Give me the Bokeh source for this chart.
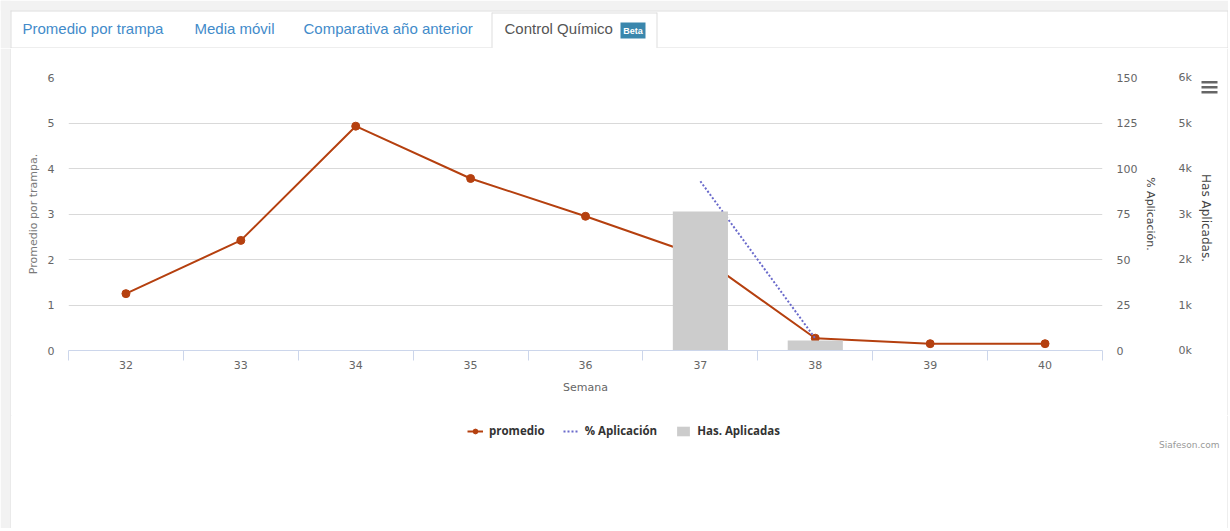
import math
from bokeh.plotting import figure
from bokeh.models import (Range1d, LinearAxis, FixedTicker, Legend, LegendItem)
from bokeh.layouts import column, row
from bokeh.embed import file_html
from bokeh.resources import INLINE
from bokeh.core.properties import value

# ---------------- data ----------------
weeks = [32, 33, 34, 35, 36, 37, 38, 39, 40]
promedio = [1.25, 2.42, 4.93, 3.78, 2.95, 2.07, 0.27, 0.15, 0.15]
aplic_weeks = [37, 38]
pct_aplicacion = [93, 6.6]
has_weeks = [37, 38]
has_aplicadas = [3055, 220]
left_ticks = [0, 1, 2, 3, 4, 5, 6]
pct_ticks = [0, 25, 50, 75, 100, 125, 150]
has_ticks = [0, 1000, 2000, 3000, 4000, 5000, 6000]
has_tick_labels = ["0k", "1k", "2k", "3k", "4k", "5k", "6k"]
tabs = ["Promedio por trampa", "Media móvil", "Comparativa año anterior", "Control Químico"]
series_names = ["promedio", "% Aplicación", "Has. Aplicadas"]

RED = "#b5400f"
PURPLE = "#6a6acb"
GRAYBAR = "#cccccc"
BORDER = "#dddddd"
OUTER = "#f2f2f2"
FONT = "DejaVu Sans"


def pixel_fig(x0, x1, y0, y1):
    """A helper figure whose frame fills its canvas, with page-pixel ranges."""
    f = figure(width=x1 - x0, height=y1 - y0, x_range=Range1d(x0, x1), y_range=Range1d(y1, y0),
               output_backend="svg", toolbar_location=None, min_border=0,
               x_axis_location=None, y_axis_location=None, title=None)
    f.grid.visible = False
    f.outline_line_color = None
    f.background_fill_color = "white"
    f.border_fill_color = "white"
    return f


# ---------------- tab bar ----------------
tf = pixel_fig(0, 1228, 0, 48)
tf.quad(left=[0, 0], right=[1228, 10], top=[0, 0], bottom=[10, 48],
        fill_color=OUTER, line_color=None)
tf.segment(x0=[10, 10.5, 10, 657, 491.5, 491.5, 656.5, 1227.5],
           y0=[10.5, 10, 47.5, 47.5, 12, 12.5, 12, 10],
           x1=[1228, 10.5, 491, 1228, 491.5, 656.5, 656.5, 1227.5],
           y1=[10.5, 48, 47.5, 47.5, 48, 12.5, 48, 48],
           line_color=BORDER, line_width=1)
tf.text(x=[22, 194, 303], y=[28, 28, 28], text=tabs[:3],
        text_font=value("Liberation Sans"), text_font_size="15px",
        text_color="#428bca", text_baseline="middle", text_align="left")
tf.text(x=[504], y=[28], text=tabs[3:],
        text_font=value("Liberation Sans"), text_font_size="15px",
        text_color="#555555", text_baseline="middle", text_align="left")
tf.quad(left=[620], right=[645], top=[22], bottom=[38], fill_color="#3a87ad", line_color=None)
tf.text(x=[632.5], y=[30.5], text=["Beta"], text_font=value("Liberation Sans"),
        text_font_size="9px", text_font_style="bold", text_color="white",
        text_baseline="middle", text_align="center")

# ---------------- left panel border strip ----------------
strip = pixel_fig(0, 11, 48, 528)
strip.quad(left=[0], right=[10], top=[48], bottom=[528], fill_color=OUTER, line_color=None)
strip.segment(x0=[10.5], y0=[48], x1=[10.5], y1=[528], line_color=BORDER, line_width=1)

# ---------------- main chart ----------------
p = figure(width=1187, height=367, x_range=Range1d(31.5, 40.5), y_range=Range1d(0, 6),
           output_backend="svg", toolbar_location=None, title=None,
           min_border_left=57, min_border_right=96, min_border_top=29, min_border_bottom=65)
p.extra_y_ranges = {"pct": Range1d(0, 150), "has": Range1d(0, 6000)}
p.outline_line_color = None
p.background_fill_color = "white"
p.border_fill_color = "white"

r_line = p.line(weeks, promedio, line_color=RED, line_width=2)
r_pts = p.scatter(weeks, promedio, size=8, fill_color=RED, line_color=RED)
r_pct = p.line(aplic_weeks, pct_aplicacion, y_range_name="pct", line_color=PURPLE,
               line_width=2, line_dash="2 2")
r_bar = p.vbar(x=has_weeks, top=has_aplicadas, width=0.48, y_range_name="has",
               fill_color=GRAYBAR, line_color=None)

p.xgrid.visible = False
p.ygrid.ticker = FixedTicker(ticks=left_ticks)
p.ygrid.grid_line_color = "#d9d9d9"

boundaries = [w - 0.5 for w in weeks] + [weeks[-1] + 0.5]
xa = p.xaxis[0]
xa.ticker = FixedTicker(ticks=weeks, minor_ticks=boundaries)
xa.axis_line_color = "#ccd6eb"
xa.major_tick_line_color = None
xa.major_tick_in = 0
xa.major_tick_out = 0
xa.minor_tick_line_color = "#ccd6eb"
xa.minor_tick_in = 0
xa.minor_tick_out = 10
xa.major_label_standoff = 0
xa.axis_label = "Semana"
xa.axis_label_standoff = 9
xa.axis_label_text_color = "#666666"

ya = p.yaxis[0]
ya.ticker = FixedTicker(ticks=left_ticks)
ya.axis_label = "Promedio por trampa."
ya.major_label_standoff = 14
ya.axis_label_standoff = 5
ya.axis_label_text_color = "#7a7a7a"

ax_pct = LinearAxis(y_range_name="pct", ticker=FixedTicker(ticks=pct_ticks),
                    axis_label="% Aplicación.", major_label_standoff=14,
                    axis_label_standoff=4)
ax_has = LinearAxis(y_range_name="has", ticker=FixedTicker(ticks=has_ticks),
                    major_label_standoff=18,
                    major_label_overrides=dict(zip(has_ticks, has_tick_labels)))
p.add_layout(ax_pct, "right")
p.add_layout(ax_has, "right")
ax_pct.axis_label_text_color = "#444444"

for ax in (ya, ax_pct, ax_has):
    ax.axis_line_color = None
    ax.major_tick_line_color = None
    ax.minor_tick_line_color = None
    ax.major_tick_in = 0
    ax.major_tick_out = 0
for ax in (xa, ya, ax_pct, ax_has):
    ax.major_label_text_font = FONT
    ax.major_label_text_font_size = "11px"
    ax.major_label_text_color = "#666666"
    ax.axis_label_text_font = FONT
    ax.axis_label_text_font_size = "11px"
    ax.axis_label_text_font_style = "normal"

# ---------------- right strip: second axis title + menu icon ----------------
rf = pixel_fig(1198, 1228, 48, 415)
rf.text(x=[1205], y=[217.5], text=["Has Aplicadas."], angle=-math.pi / 2,
        text_font=value(FONT), text_font_size="12px", text_color="#444444",
        text_align="center", text_baseline="middle")
rf.quad(left=[1201, 1201, 1201], right=[1217, 1217, 1217],
        top=[80.5, 85.5, 90.5], bottom=[83, 88, 93], fill_color="#666666", line_color=None)
rf.segment(x0=[1227.5], y0=[48], x1=[1227.5], y1=[415], line_color=BORDER)

# ---------------- bottom strip: legend + credits ----------------
bf = pixel_fig(11, 1228, 415, 528)
off = [-1000, -999]  # legend proxies kept outside the visible strip
l1 = bf.line(off, off, line_color=RED, line_width=2)
l2 = bf.scatter(off, off, size=8, fill_color=RED, line_color=RED)
l3 = bf.line(off, off, line_color=PURPLE, line_width=2, line_dash="2 2")
l4 = bf.vbar(x=off, top=off, width=0.5, fill_color=GRAYBAR, line_color=None)
legend = Legend(items=[LegendItem(label=series_names[0], renderers=[l1, l2]),
                       LegendItem(label=series_names[1], renderers=[l3]),
                       LegendItem(label=series_names[2], renderers=[l4])],
                orientation="horizontal", location=(456, 90), padding=0, margin=0,
                spacing=18, glyph_width=16, glyph_height=12, label_standoff=6,
                label_height=12, border_line_color=None, background_fill_alpha=0,
                label_text_font="Open Sans", label_text_font_size="11.5px",
                label_text_font_style="bold", label_text_color="#333333")
bf.add_layout(legend)
bf.text(x=[1219], y=[444], text=["Siafeson.com"], text_font=value(FONT),
        text_font_size="9px", text_color="#999999", text_align="right",
        text_baseline="middle")
bf.segment(x0=[1227.5], y0=[415], x1=[1227.5], y1=[528], line_color=BORDER)

layout = column(tf, row(strip, column(row(p, column(rf)), bf)))
open("out.html", "w").write(file_html(layout, INLINE))
